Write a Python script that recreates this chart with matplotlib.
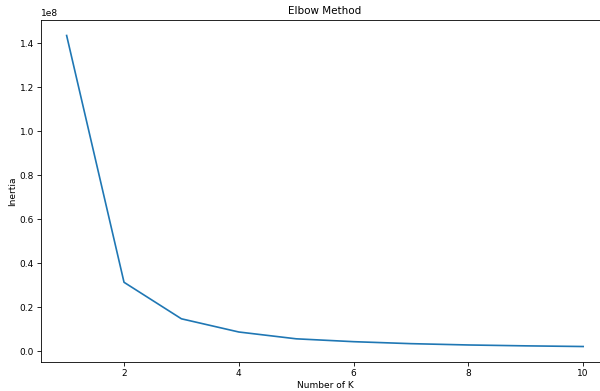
import matplotlib
matplotlib.use('Agg')
import matplotlib.pyplot as plt

# Elbow curve values
k_values = [1, 2, 3, 4, 5, 6, 7, 8, 9, 10]
inertia = [1.435e8, 3.13e7, 1.47e7, 8.7e6, 5.6e6, 4.3e6, 3.4e6, 2.8e6, 2.4e6, 2.1e6]

plt.rc('font', size=6.5)
fig = plt.figure(figsize=(6, 3.91), dpi=100)
# axes runs slightly past the right edge, as in the cropped reference
ax = fig.add_axes([0.068, 0.074, 0.947, 0.875])
ax.plot(k_values, inertia, color='#1f77b4', linewidth=1.2)
ax.set_title('Elbow Method', fontsize=7.5, pad=4)
ax.set_xlabel('Number of K', labelpad=2)
ax.set_ylabel('Inertia', labelpad=2)
ax.set_xticks([2, 4, 6, 8, 10])
ax.tick_params(length=3, width=0.6, pad=2)
for s in ax.spines.values():
    s.set_linewidth(0.6)
fig.savefig('out.png', dpi=100)
